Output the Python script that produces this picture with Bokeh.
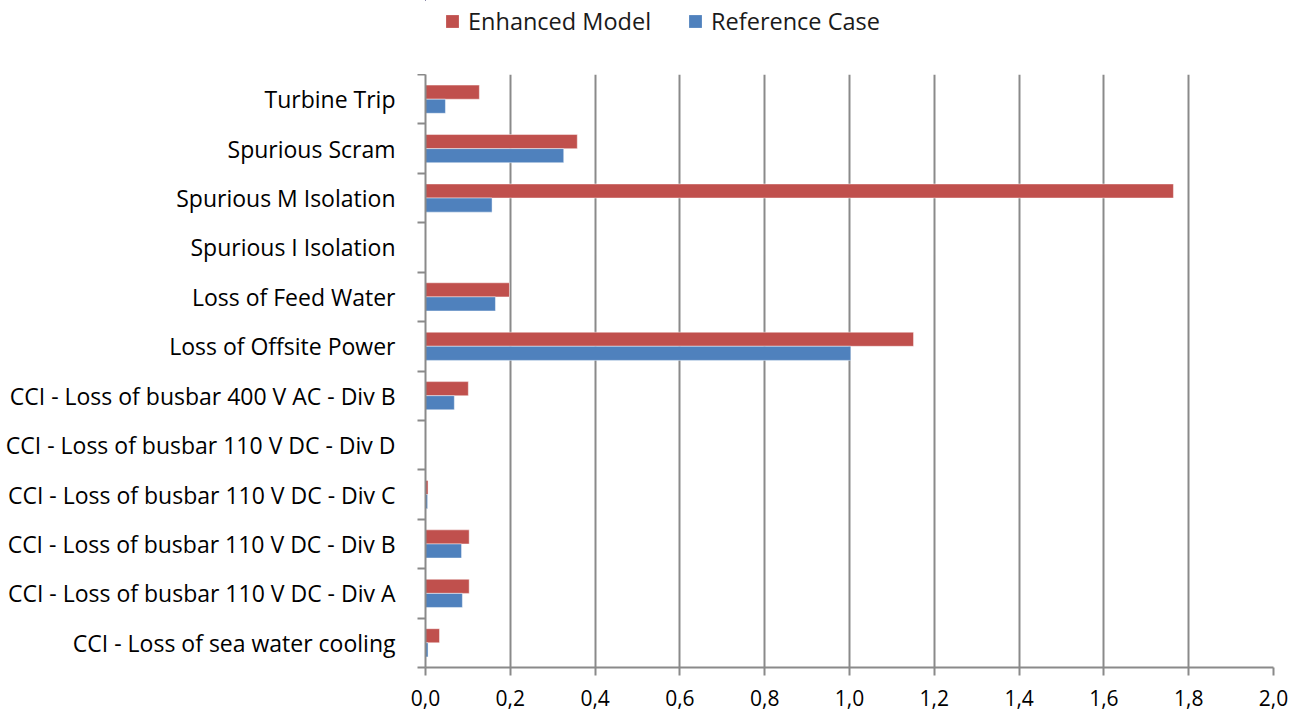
from bokeh.plotting import figure
from bokeh.layouts import column
from bokeh.models import ColumnDataSource, FixedTicker, Legend, LegendItem, Range1d
from bokeh.transform import dodge
from bokeh.embed import file_html
from bokeh.resources import INLINE

# Categories, top to bottom as shown
categories = [
    "Turbine Trip",
    "Spurious Scram",
    "Spurious M Isolation",
    "Spurious I Isolation",
    "Loss of Feed Water",
    "Loss of Offsite Power",
    "CCI - Loss of busbar 400 V AC - Div B",
    "CCI - Loss of busbar 110 V DC - Div D",
    "CCI - Loss of busbar 110 V DC - Div C",
    "CCI - Loss of busbar 110 V DC - Div B",
    "CCI - Loss of busbar 110 V DC - Div A",
    "CCI - Loss of sea water cooling",
]
enhanced_model = [0.127, 0.358, 1.764, 0.0, 0.198, 1.151, 0.101, 0.0, 0.006, 0.103, 0.103, 0.033]
reference_case = [0.047, 0.326, 0.157, 0.0, 0.165, 1.003, 0.068, 0.0, 0.005, 0.085, 0.087, 0.006]
x_ticks = [0.0, 0.2, 0.4, 0.6, 0.8, 1.0, 1.2, 1.4, 1.6, 1.8, 2.0]
x_tick_labels = ["0,0", "0,2", "0,4", "0,6", "0,8", "1,0", "1,2", "1,4", "1,6", "1,8", "2,0"]
series_names = ["Enhanced Model", "Reference Case"]

RED = "#C0504D"
BLUE = "#4F81BD"
GRID = "#8a8a8a"
FONT = "Open Sans"

n = len(categories)
ypos = [n - 1 - i for i in range(n)]
src = ColumnDataSource(dict(y=ypos, enh=enhanced_model, ref=reference_case, cat=categories))

p = figure(frame_width=848, frame_height=593, output_backend="svg", toolbar_location=None,
           x_range=Range1d(0, 2), y_range=Range1d(-0.5, n - 0.5),
           min_border_left=425, min_border_right=20, min_border_top=0, min_border_bottom=48)
p.outline_line_color = None
p.background_fill_color = "white"
p.border_fill_color = "white"

bh = 0.285
p.hbar(y=dodge("y", bh / 2, range=p.y_range), left=0, right="enh", height=bh, source=src,
       fill_color=RED, line_color="white", line_alpha=0.45, line_width=1)
p.hbar(y=dodge("y", -bh / 2, range=p.y_range), left=0, right="ref", height=bh, source=src,
       fill_color=BLUE, line_color="white", line_alpha=0.45, line_width=1)

# X axis
p.xaxis.ticker = FixedTicker(ticks=x_ticks)
p.xaxis.major_label_overrides = {t: l for t, l in zip(x_ticks, x_tick_labels)}
p.xaxis.axis_line_color = GRID
p.xaxis.axis_line_width = 2
p.xaxis.major_tick_line_color = GRID
p.xaxis.major_tick_line_width = 2
p.xaxis.major_tick_out = 8
p.xaxis.major_tick_in = 0
p.xaxis.minor_tick_line_color = None
p.xaxis.major_label_standoff = 14
p.xaxis.major_label_text_font = FONT
p.xaxis.major_label_text_font_size = "21px"
p.xaxis.major_label_text_color = "#000000"

# Y axis: labels at centers, ticks at category boundaries
boundaries = [i - 0.5 for i in range(n + 1)]
p.yaxis.ticker = FixedTicker(ticks=ypos, minor_ticks=boundaries)
p.yaxis.major_label_overrides = {y: c for y, c in zip(ypos, categories)}
p.yaxis.axis_line_color = GRID
p.yaxis.axis_line_width = 2
p.yaxis.major_tick_line_color = None
p.yaxis.major_tick_out = 0
p.yaxis.major_tick_in = 0
p.yaxis.minor_tick_line_color = GRID
p.yaxis.minor_tick_line_width = 2
p.yaxis.minor_tick_out = 8
p.yaxis.minor_tick_in = 0
p.yaxis.major_label_standoff = 22
p.yaxis.major_label_text_font = FONT
p.yaxis.major_label_text_font_size = "23px"
p.yaxis.major_label_text_color = "#000000"

p.xgrid.ticker = FixedTicker(ticks=x_ticks)
p.xgrid.grid_line_color = GRID
p.xgrid.grid_line_width = 2
p.ygrid.grid_line_color = None

# Legend strip above the chart (legend proxies use the same data, kept out of view)
pl = figure(width=1293, height=74, output_backend="svg", toolbar_location=None,
            x_axis_type=None, y_axis_type=None,
            x_range=Range1d(5, 6), y_range=Range1d(-30, -29),
            min_border_left=425, min_border_right=20, min_border_top=0, min_border_bottom=0)
pl.outline_line_color = None
pl.border_fill_color = "white"
pl.background_fill_color = "white"
lr1 = pl.hbar(y="y", left=0, right="enh", height=bh, source=src, fill_color=RED, line_color=None)
lr2 = pl.hbar(y="y", left=0, right="ref", height=bh, source=src, fill_color=BLUE, line_color=None)
legend = Legend(items=[LegendItem(label=series_names[0], renderers=[lr1]),
                       LegendItem(label=series_names[1], renderers=[lr2])],
                orientation="horizontal", location=(19, 37),
                label_text_font=FONT, label_text_font_size="23.5px", label_text_color="#1a1a1a",
                glyph_width=16, glyph_height=16, spacing=36, label_standoff=8,
                border_line_color=None, background_fill_alpha=0, padding=4, margin=0)
pl.add_layout(legend, "center")

layout = column(pl, p, spacing=0)
open("out.html", "w").write(file_html(layout, INLINE))
